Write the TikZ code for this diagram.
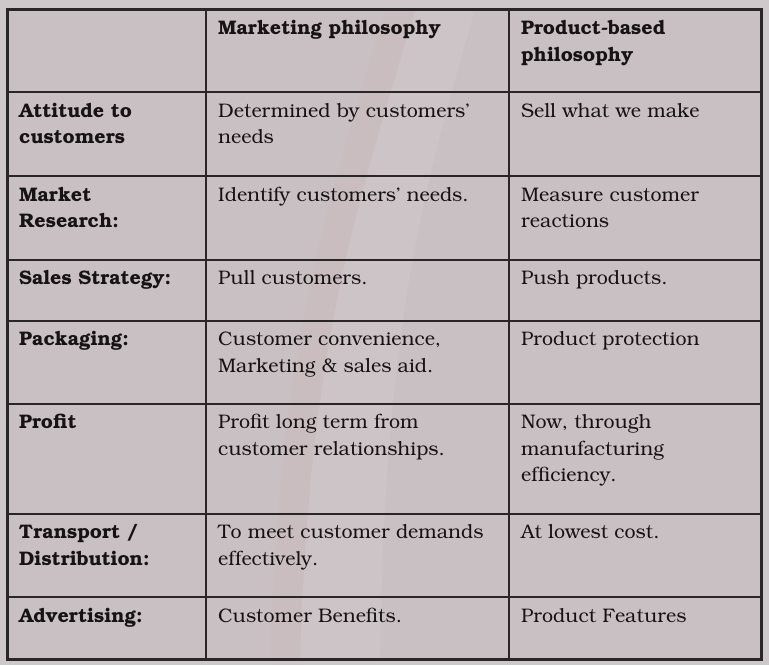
\documentclass[tikz,border=0pt]{standalone}
\usepackage[T1]{fontenc}
\usepackage{bookman}
\definecolor{bg}{HTML}{C9C0C3}
\definecolor{margin}{HTML}{CFC8CA}
\definecolor{rule}{HTML}{2A2526}
\definecolor{ink}{HTML}{171314}
\tikzset{
  cell/.style={anchor=north west, inner sep=0pt, align=left, text=ink,
    font=\fontsize{19.6}{26.5}\selectfont},
  headcell/.style={cell, font=\fontsize{19.6}{26.5}\selectfont\bfseries},
  gridline/.style={draw=rule, line width=2pt},
  frameline/.style={draw=rule, line width=3pt}
}
\begin{document}
\begin{tikzpicture}[x=1pt,y=-1pt]
\useasboundingbox (0,0) rectangle (769,665);
\fill[margin] (0,0) rectangle (769,665);
\fill[bg] (7,9.5) rectangle (761,659.5);
% faint light streak of the background
\fill[white, opacity=0.08] (415,9.5) -- (475,9.5) .. controls (420,200) and (385,330) .. (380,659.5) -- (300,659.5) .. controls (310,330) and (360,200) .. cycle;
\fill[red!70!white, opacity=0.025] (385,9.5) -- (415,9.5) .. controls (360,200) and (310,330) .. (300,659.5) -- (270,659.5) .. controls (280,330) and (330,200) .. cycle;
% grid
\foreach \y in {92,176,259.5,320.5,403.5,514,597}
  \draw[gridline] (7,\y) -- (761,\y);
\foreach \x in {206,509}
  \draw[gridline] (\x,9.5) -- (\x,659.5);
\draw[frameline] (7,9.5) rectangle (761,659.5);
% header
\node[headcell] (h2) at (218,16) {\strut Marketing philosophy};
\node[headcell] (h3) at (521,16) {\strut Product-based\\philosophy};
% rows
\node[headcell] (r1) at (19,98.5) {\strut Attitude to\\customers};
\node[cell] (r1a) at (218,98.5) {\strut Determined by customers'\\needs};
\node[cell] (r1b) at (521,98.5) {\strut Sell what we make};
\node[headcell] (r2) at (19,182.5) {\strut Market\\Research:};
\node[cell] (r2a) at (218,182.5) {\strut Identify customers' needs.};
\node[cell] (r2b) at (521,182.5) {\strut Measure customer\\reactions};
\node[headcell] (r3) at (19,266) {\strut Sales Strategy:};
\node[cell] (r3a) at (218,266) {\strut Pull customers.};
\node[cell] (r3b) at (521,266) {\strut Push products.};
\node[headcell] (r4) at (19,327) {\strut Packaging:};
\node[cell] (r4a) at (218,327) {\strut Customer convenience,\\Marketing \& sales aid.};
\node[cell] (r4b) at (521,327) {\strut Product protection};
\node[headcell] (r5) at (19,410) {\strut Profit};
\node[cell] (r5a) at (218,410) {\strut Profit long term from\\customer relationships.};
\node[cell] (r5b) at (521,410) {\strut Now, through\\manufacturing\\efficiency.};
\node[headcell] (r6) at (19,520) {\strut Transport /\\Distribution:};
\node[cell] (r6a) at (218,520) {\strut To meet customer demands\\effectively.};
\node[cell] (r6b) at (521,520) {\strut At lowest cost.};
\node[headcell] (r7) at (19,603.5) {\strut Advertising:};
\node[cell] (r7a) at (218,603.5) {\strut Customer Benefits.};
\node[cell] (r7b) at (521,603.5) {\strut Product Features};
\end{tikzpicture}
\end{document}
